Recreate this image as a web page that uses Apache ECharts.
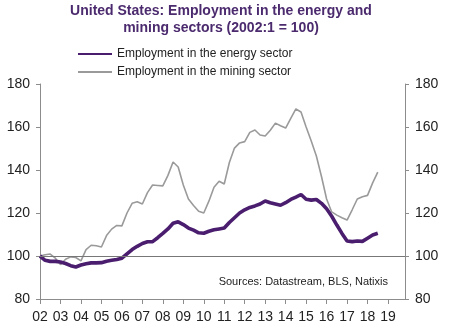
<!DOCTYPE html>
<html>
<head>
<meta charset="utf-8">
<script src="https://cdn.jsdelivr.net/npm/echarts@6/dist/echarts.min.js"></script>
<style>
  html, body { margin: 0; padding: 0; background: #fff; }
  #chart { width: 452px; height: 329px; }
</style>
</head>
<body>
<div id="chart"></div>
<script>
// Quarterly index values, 2002Q1 = 100, starting at 2002Q1
const startYear = 2002;
const energy = [
  100, 98, 97.5, 97.5, 97.2, 96.5, 95.5, 94.9,
  95.8, 96.4, 96.8, 96.8, 96.9, 97.6, 98, 98.4,
  99, 101, 103, 104.5, 105.8, 106.6, 106.7, 108.5,
  110.5, 112.6, 115.2, 115.9, 114.6, 113, 112, 110.8,
  110.6, 111.5, 112.2, 112.6, 113, 115.6, 117.8, 120,
  121.5, 122.6, 123.3, 124.2, 125.6, 124.8, 124.2, 123.6,
  124.8, 126.3, 127.4, 128.6, 126.4, 126, 126.3, 124.5,
  122, 118.5, 114.4, 110.5, 107, 106.7, 107, 106.8,
  108.3, 109.8, 110.6
];
const mining = [
  100, 100.6, 100.9, 99, 96, 98.5, 99.6, 99.3,
  97.7, 103, 105, 104.8, 104.2, 109.5, 112.5, 114.2,
  114, 120, 124.5, 125.2, 124.2, 129.5, 133, 132.8,
  132.6, 137.5, 143.7, 141.4, 133, 126.5, 123.5, 120.8,
  120, 125.5, 132, 134.8, 133.5, 143.5, 150.2, 152.6,
  153.2, 157.5, 158.6, 156.3, 155.8, 158.5, 161.8, 160.6,
  159.5, 164, 168.4, 167, 160, 153.5, 146.5, 137,
  126.5, 120.5, 119, 117.8, 116.7, 121.5, 126.5, 127.6,
  128.2, 134, 139
];
const seriesNames = ['Employment in the energy sector', 'Employment in the mining sector'];
const titleLines = ['United States: Employment in the energy and', 'mining sectors (2002:1 = 100)'];
const sourceNote = 'Sources: Datastream, BLS, Natixis';
const yTicks = [80, 100, 120, 140, 160, 180];

const toPairs = vals => vals.map((v, i) => [startYear + i * 0.25, v]);

const purple = '#4a1d6e';
const grey = '#9a9a9a';
const axisGrey = '#8c8c8c';
const font = 'Liberation Sans, Arial, sans-serif';

const yAxisCommon = {
  type: 'value',
  min: yTicks[0],
  max: yTicks[yTicks.length - 1],
  interval: 20,
  axisLine: { show: true, lineStyle: { color: axisGrey, width: 1 } },
  axisTick: { show: true, length: 4, lineStyle: { color: axisGrey } },
  splitLine: { show: false },
  axisLabel: { color: '#222', fontSize: 14, fontFamily: font, margin: 10 }
};

const chart = echarts.init(document.getElementById('chart'), null, { renderer: 'canvas' });
chart.setOption({
  animation: false,
  backgroundColor: '#fff',
  title: {
    text: titleLines.join('\n'),
    left: 216,
    textAlign: 'center',
    top: -2,
    textStyle: { color: '#4b2a6e', fontSize: 14, fontWeight: 'bold', fontFamily: font, lineHeight: 17 }
  },
  legend: {
    orient: 'vertical',
    left: 77,
    top: 48,
    padding: 0,
    itemWidth: 34,
    itemHeight: 12,
    itemGap: 6,
    itemStyle: { opacity: 0 },
    textStyle: { color: '#222', fontSize: 12, fontFamily: font },
    data: seriesNames
  },
  grid: { left: 40, right: 47, top: 84, bottom: 30 },
  xAxis: {
    type: 'value',
    min: startYear,
    max: 2019.83,
    interval: 1,
    axisLine: { show: true, lineStyle: { color: axisGrey, width: 1 } },
    axisTick: { show: true, length: 5, lineStyle: { color: axisGrey } },
    splitLine: { show: false },
    axisLabel: {
      color: '#222', fontSize: 14, fontFamily: font, margin: 11,
      showMaxLabel: false,
      formatter: v => Number.isInteger(v) ? String(v % 100).padStart(2, '0') : ''
    }
  },
  yAxis: [
    Object.assign({ position: 'left' }, yAxisCommon),
    Object.assign({ position: 'right' }, yAxisCommon)
  ],
  graphic: [{
    type: 'text',
    right: 64,
    top: 276,
    style: { text: sourceNote, fill: '#222', font: '11px ' + font }
  }],
  series: [
    {
      name: seriesNames[1],
      type: 'line',
      data: toPairs(mining),
      symbol: 'none',
      lineStyle: { color: grey, width: 1.6 },
      itemStyle: { color: grey },
      z: 2,
      markLine: {
        silent: true,
        symbol: 'none',
        label: { show: false },
        lineStyle: { color: '#777', width: 1, type: 'solid' },
        data: [{ yAxis: 100 }]
      }
    },
    {
      name: seriesNames[0],
      type: 'line',
      data: toPairs(energy),
      symbol: 'none',
      lineStyle: { color: purple, width: 3.6 },
      itemStyle: { color: purple },
      z: 3
    }
  ]
});
</script>
</body>
</html>
